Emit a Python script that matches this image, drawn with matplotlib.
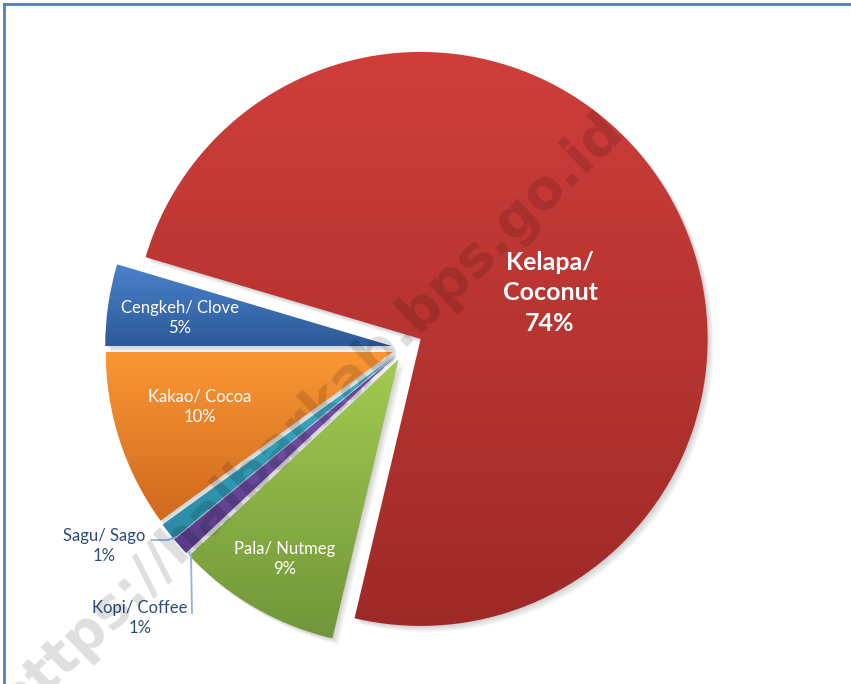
import numpy as np
import matplotlib
matplotlib.use("Agg")
import matplotlib.pyplot as plt
from matplotlib.patches import Wedge
from matplotlib.lines import Line2D
from matplotlib.colors import to_rgb

# ---- data ----
names = ["Kelapa/\nCoconut", "Pala/ Nutmeg", "Kopi/ Coffee", "Sagu/ Sago", "Kakao/ Cocoa", "Cengkeh/ Clove"]
values = [74.1, 9.3, 1.0, 1.0, 10.0, 4.6]
top_colors = ["#CF3E3A", "#A3CB50", "#7D5AB2", "#3DB0CB", "#F99735", "#4B82CC"]
bottom_colors = ["#9E2A28", "#71963A", "#583C88", "#2A8AA5", "#D0691D", "#2D5A98"]
explode = [0.063, 0.045, 0.045, 0.045, 0.045, 0.045]

labels = [f"{n}\n{round(v):d}%" for n, v in zip(names, values)]

# geometry (pixels)
W, H = 851, 684
CX, CY, R = 405, 348, 287

def P(px, py):
    return ((px - CX) / R, (CY - py) / R)

fig = plt.figure(figsize=(W / 100, H / 100), dpi=100)
ax = fig.add_axes([0, 0, 1, 1])
ax.set_axis_off()

start = 180 - values[-1] * 3.6
wedges, _ = ax.pie(values, startangle=start, counterclock=False, explode=explode,
                   radius=1, center=(0, 0), colors=top_colors)

# shadows and gradients
for w, c1, c2 in zip(wedges, top_colors, bottom_colors):
    cx, cy = w.center
    for k in range(1, 6):
        off = k * 1.2 / R
        sh = Wedge((cx + off, cy - off), w.r, w.theta1, w.theta2,
                   facecolor="black", edgecolor="none", alpha=0.035, zorder=0.5)
        ax.add_patch(sh)
    th = np.radians(np.linspace(w.theta1, w.theta2, 200))
    xs = np.concatenate([[cx], cx + w.r * np.cos(th)])
    ys = np.concatenate([[cy], cy + w.r * np.sin(th)])
    a = np.array(to_rgb(c2)); b = np.array(to_rgb(c1))
    t = np.linspace(0, 1, 256)[:, None]
    grad = (a[None, :] * (1 - t) + b[None, :] * t)[:, None, :]
    im = ax.imshow(grad, extent=(xs.min(), xs.max(), ys.min(), ys.max()),
                   origin="lower", aspect="auto", zorder=1, interpolation="bilinear")
    im.set_clip_path(w)
    w.set_facecolor("none")
    w.set_edgecolor("none")
    w.set_zorder(1)

font = "Lato"
# inside labels
ax.text(*P(550, 293), labels[0], color="white", fontsize=18,
        fontweight="bold", ha="center", va="center", family=font, linespacing=1.4, zorder=5)
ax.text(*P(180, 318), labels[5], color="white", fontsize=12,
        ha="center", va="center", family=font, linespacing=1.35, zorder=5)
ax.text(*P(200, 407), labels[4], color="white", fontsize=12,
        ha="center", va="center", family=font, linespacing=1.35, zorder=5)
ax.text(*P(285, 559), labels[1], color="white", fontsize=12,
        ha="center", va="center", family=font, linespacing=1.35, zorder=5)

# outside labels
dark = "#2B4C7E"
ax.text(*P(104, 546), labels[3], color=dark, fontsize=12,
        ha="center", va="center", family=font, linespacing=1.35, zorder=5)
ax.text(*P(140, 618), labels[2], color=dark, fontsize=12,
        ha="center", va="center", family=font, linespacing=1.35, zorder=5)
lc = "#8DB4E2"
pts = [P(152, 540), P(168, 540), P(176, 537)]
ax.plot([p[0] for p in pts], [p[1] for p in pts], color=lc, lw=1.3, zorder=5)
pts = [P(192, 613), P(191, 556), P(189, 552)]
ax.plot([p[0] for p in pts], [p[1] for p in pts], color=lc, lw=1.3, zorder=5)

# watermark
ax.text(*P(310, 416), "https://halbarkab.bps.go.id", rotation=44, rotation_mode="anchor",
        ha="center", va="center", fontsize=39.5, fontweight="bold", color="black",
        alpha=0.13, family="DejaVu Sans", zorder=6)

ax.set_xlim(-CX / R, (W - CX) / R)
ax.set_ylim((CY - H) / R, CY / R)
ax.set_aspect("auto")

# chart-area border
bc = "#4F81BD"
fig.add_artist(Line2D([4 / W, 1.01], [1 - 4 / H, 1 - 4 / H], color=bc, lw=2, transform=fig.transFigure))
fig.add_artist(Line2D([4 / W, 4 / W], [-0.01, 1 - 4 / H], color=bc, lw=2, transform=fig.transFigure))

fig.savefig("out.png", dpi=100)
